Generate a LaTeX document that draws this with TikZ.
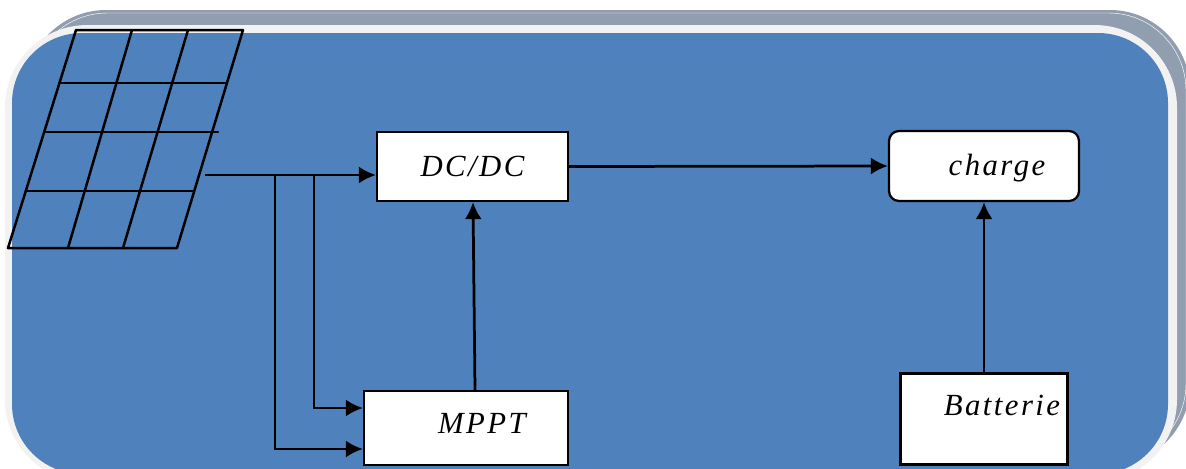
\documentclass[tikz,border=0pt]{standalone}
\usepackage{fontspec}
\setmainfont{Liberation Serif}[LetterSpace=8]
\usetikzlibrary{
	arrows.meta,
	positioning,
	calc
}
\definecolor{panelblue}{HTML}{4F81BD}
\definecolor{bandgrey}{HTML}{F2F2F2}
\definecolor{backgrey}{HTML}{919EAF}

\begin{document}
\begin{tikzpicture}[
		x = 0.02cm,
		y = -0.02cm,
		boxnode/.style={
			draw,
			fill=white,
			line width = 0.045cm,
			inner sep = 0pt,
			font=\itshape\fontsize{17.5}{20}\selectfont
		},
		boxtext/.style={
			font=\itshape\fontsize{17.5}{20}\selectfont
		},
		flow/.style={
			draw,
			line width = 0.055cm,
			-{Latex[length=0.34cm,width=0.34cm]}
		},
		grid line/.style={
			draw,
			line width = 0.05cm,
			line cap=round
		}
		]
		
		\useasboundingbox (0,0) rectangle (1186,468);
		\clip (0,0) rectangle (1186,468);
		
		% background
		\fill[backgrey, rounded corners=1.6cm] (26,10) rectangle (1190,465);
		\draw[white, line width=0.25pt, rounded corners=1.55cm] (30,13) rectangle (1186,461);
		\fill[bandgrey, rounded corners=1.65cm] (5,25) rectangle (1177,482);
		\fill[panelblue, rounded corners=1.4cm] (12,33) rectangle (1168,474);
		
		% solar panel
		\draw[grid line, line join=round] (76,30) -- (243,30) -- (177,248) -- (8,248) -- cycle;
		\draw[grid line] (59,83) -- (227,83);
		\draw[grid line] (44,132) -- (218,132);
		\draw[grid line] (26,191) -- (194,191);
		\draw[grid line] (132,30) -- (68,248);
		\draw[grid line] (188,30) -- (123,248);
		
		% blocks
		\node[boxnode, minimum width=3.82cm, minimum height=1.38cm] (dcdc) at (472.5,166.5) {DC/DC};
		\node[boxnode, minimum width=4.08cm, minimum height=1.48cm] (mppt) at (466,428) {};
		\node[boxtext] (mppttext) at (482,423) {MPPT};
		\node[boxnode, rounded corners=0.2cm, minimum width=3.8cm, minimum height=1.4cm] (charge) at (984,166) {};
		\node[boxtext] (chargetext) at (997,168) {charge};
		\node[boxnode, minimum width=3.34cm, minimum height=1.82cm] (batterie) at (984,419) {};
		\node[boxtext] (batterietext) at (1002,405) {Batterie};
		
		% connectors
		\coordinate (panelout) at (205,175);
		\coordinate (branchb) at (275,175);
		\coordinate (brancha) at (314,175);
		\draw[flow] (panelout) -- (dcdc.west |- panelout);
		\draw[flow] (brancha) |- ($(mppt.west)+(0,-20)$);
		\draw[flow] (branchb) |- ($(mppt.west)+(0,21)$);
		\draw[flow] (mppt.north -| 475,0) -- (dcdc.south -| 473,0);
		\draw[flow] (dcdc.east) -- (charge.west);
		\draw[flow] (batterie.north) -- (charge.south);
	\end{tikzpicture}
\end{document}
